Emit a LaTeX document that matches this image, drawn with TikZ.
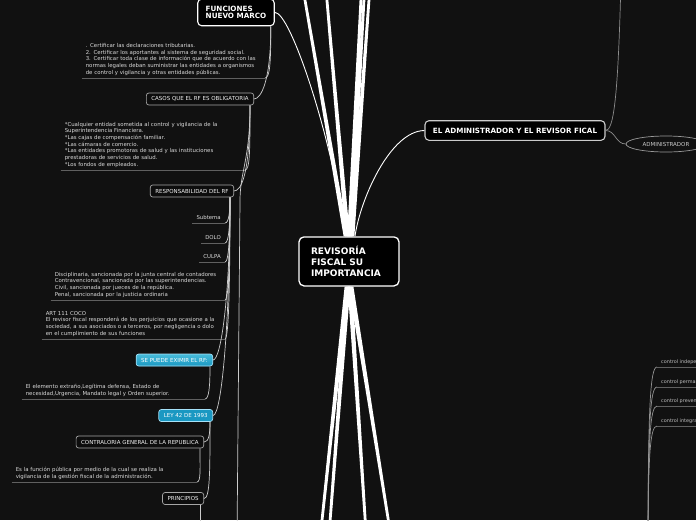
\documentclass[tikz,border=0pt]{standalone}
\usepackage{fontspec}
\setmainfont{DejaVu Sans}
\usetikzlibrary{calc,shapes.geometric}
\definecolor{bgdark}{HTML}{111111}
\definecolor{tealdark}{HTML}{1A98C2}
\definecolor{teallight}{HTML}{48BCDA}

\begin{document}
\begin{tikzpicture}[
  x=1pt, y=-1pt,
  rootbox/.style={draw=white, line width=1.3pt, fill=black, rounded corners=5pt,
    minimum width=100pt, minimum height=49pt, text width=76pt, inner xsep=12pt,
    align=left, text=white, font=\fontsize{9}{11.3}\selectfont\bfseries},
  mainbox/.style={draw=white, line width=1.1pt, fill=black, rounded corners=4pt,
    align=left, text=white, inner xsep=8pt, font=\fontsize{7.2}{7.6}\selectfont\bfseries},
  smallbox/.style={draw=gray!70!white, line width=0.7pt, fill=black!95, rounded corners=2.5pt,
    anchor=east, inner xsep=5pt, minimum height=12pt, text=white!95!black,
    font=\fontsize{5.5}{6.5}\selectfont},
  tealbox/.style={smallbox, draw=cyan!35!white, fill=tealdark, text=white},
  leaf/.style={anchor=south east, align=left, inner xsep=4pt, inner ysep=1.5pt,
    text=white!85!black, font=\fontsize{5.4}{6.7}\selectfont, execute at end node=\strut},
  uline/.style={draw=gray!75!black, line width=0.8pt},
  link/.style={draw=white!80!black, line width=0.7pt},
  mainlink/.style={draw=white, line width=0.9pt}]

\useasboundingbox (0,0) rectangle (696,520);
\fill[bgdark] (0,0) rectangle (696,520);
\clip (0,0) rectangle (696,520);

% --- central topic and first level ---
\node[rootbox] (root) at (349,261.4) {REVISORÍA\\FISCAL SU\\IMPORTANCIA};
\node[mainbox, minimum height=26.7pt] (funciones) at (236,12.4) {FUNCIONES\\NUEVO MARCO};
\node[mainbox, draw=white!80!black, minimum width=180pt, minimum height=19.6pt, align=center, inner xsep=4pt]
  (admin) at (515,130.5) {EL ADMINISTRADOR Y EL REVISOR FICAL};
\node[ellipse, draw=gray!80!white, line width=0.7pt, minimum width=80pt, minimum height=16pt,
  text=white!80!black, font=\fontsize{5.5}{6}\selectfont] (adm) at (666,144) {ADMINISTRADOR};

% --- left tree ---
\node[leaf, text width=175pt] (t1) at (265,78) {. Certificar las declaraciones tributarias.\\
  2. Certificar los aportantes al sistema de seguridad social.\\
  3. Certificar toda clase de información que de acuerdo con las\\
  normas legales deban suministrar las entidades a organismos\\
  de control y vigilancia y otras entidades públicas.};
\node[smallbox] (casos) at (254,99) {CASOS QUE EL RF ES OBLIGATORIA};
\node[leaf, text width=176pt] (t2) at (245,170) {*Cualquier entidad sometida al control y vigilancia de la\\
  Superintendencia Financiera.\\{}
  *Las cajas de compensación familiar.\\{}
  *Las cámaras de comercio.\\{}
  *Las entidades promotoras de salud y las instituciones\\
  prestadoras de servicios de salud.\\{}
  *Los fondos de empleados.};
\node[smallbox] (resp) at (234,191) {RESPONSABILIDAD DEL RF};
\node[leaf] (sub) at (225,223) {Subtema};
\node[leaf] (dolo) at (225,243) {DOLO};
\node[leaf] (culpa) at (225,262) {CULPA};
\node[leaf, text width=166pt] (t3) at (225,300) {Disciplinaria, sancionada por la junta central de contadores\\
  Contravencional, sancionada por las superintendencias.\\
  Civil, sancionada por jueces de la república.\\
  Penal, sancionada por la justicia ordinaria};
\node[leaf, text width=175pt] (t4) at (225,339) {ART 111 COCO\\
  El revisor fiscal responderá de los perjuicios que ocasione a la\\
  sociedad, a sus asociados o a terceros, por negligencia o dolo\\
  en el cumplimiento de sus funciones};
\node[tealbox, top color=teallight, bottom color=tealdark] (eximir) at (213,360) {SE PUEDE EXIMIR EL RF:};
\node[leaf, text width=175pt] (t5) at (205,399) {El elemento extraño,Legítima defensa, Estado de\\
  necesidad,Urgencia, Mandato legal y Orden superior.};
\node[tealbox] (ley) at (213,415.5) {LEY 42 DE 1993};
\node[smallbox] (contra) at (204,442) {CONTRALORIA GENERAL DE LA REPUBLICA};
\node[leaf, text width=177pt] (t6) at (197,482) {Es la función pública por medio de la cual se realiza la\\
  vigilancia de la gestión fiscal de la administración.};
\node[smallbox] (princ) at (204,498.5) {PRINCIPIOS};

% --- right leaves ---
\foreach \i/\y/\txt in {1/367/control independiente, 2/387/control permanente,
                        3/406/control preventivo, 4/426/control integral}
  \node[leaf, anchor=south west, text=white!75!black, font=\fontsize{4.9}{6}\selectfont]
    (c\i) at (657,\y) {\txt};

\foreach \n in {t1,t2,sub,dolo,culpa,t3,t4,t5,t6,c1,c2,c3,c4}
  \draw[uline] (\n.south west) -- (\n.south east);

% --- thick branches leaving the centre ---
\coordinate (u1) at (301.5,-20);
\coordinate (u2) at (325.2,-20);
\coordinate (u3) at (361.9,-20);
\coordinate (u4) at (365.1,-20);
\coordinate (u5) at (370.4,-20);
\coordinate (d1) at (319.9,540);
\coordinate (d2) at (328.6,540);
\coordinate (d3) at (366.5,540);
\coordinate (d4) at (391.5,540);
\foreach \e/\s in {u1/-3, u2/-1.5, u3/0.5, u4/1.5, u5/3}
  \fill[white] ($(root.north)+(\s-2.4,0)$) -- ($(\e)+(-1.3,0)$) -- ($(\e)+(1.3,0)$)
    -- ($(root.north)+(\s+2.4,0)$) -- cycle;
\foreach \e/\s in {d1/-2, d2/-1, d3/1, d4/2}
  \fill[white] ($(root.south)+(\s-2.4,0)$) -- ($(\e)+(-1.3,0)$) -- ($(\e)+(1.3,0)$)
    -- ($(root.south)+(\s+2.4,0)$) -- cycle;

\draw[mainlink] ($(root.north)+(-3,0)$) .. controls (330,130) and (290,12) .. (funciones.east);
\draw[mainlink] ($(root.north)+(6,0)$) .. controls (360,200) and (390,131) .. (admin.west);

% --- administrador ---
\coordinate (up6) at (621,-20);
\draw[link, draw=gray!90!white] (admin.east) .. controls +(8,0) and +(-3,120) .. (up6);
\draw[link, draw=gray!90!white] (admin.east) .. controls +(10,0) and +(-10,0) .. (adm.west);

% --- left connectors ---
\coordinate (fb) at ($(funciones.south east)+(-4,0)$);
\draw[link] (fb) .. controls +(0,36) and +(5,0) .. (t1.south east);
\draw[link] (fb) .. controls +(0,55) and +(7,0) .. (casos.east);

\coordinate (cb) at ($(casos.south east)+(-4,0)$);
\coordinate (down1) at (237,540);
\draw[link] (cb) .. controls +(0,45) and +(5,0) .. (t2.south east);
\draw[link] (cb) .. controls +(0,70) and +(7,0) .. (resp.east);
\draw[link] (cb) .. controls +(0,55) and +(0,-30) .. ($(resp.east)+(6,10)$) -- (down1);

\coordinate (rb) at ($(resp.south east)+(-4,0)$);
\foreach \n/\k/\r in {sub.south east/14/4, dolo.south east/26/4, culpa.south east/36/4,
                      t3.south east/58/4, t4.south east/80/4, eximir.east/100/8, ley.east/120/9}
  \draw[link] (rb) .. controls +(0,\k) and +(\r,0) .. (\n);

\draw[link] ($(eximir.south east)+(-3,0)$) .. controls +(0,20) and +(4,0) .. (t5.south east);
\coordinate (lb) at ($(ley.south east)+(-3,0)$);
\draw[link] (lb) .. controls +(0,12) and +(5,0) .. (contra.east);
\draw[link] (lb) .. controls +(0,50) and +(6,0) .. (princ.east);
\draw[link] ($(contra.south east)+(-4,0)$) .. controls +(0,20) and +(4,0) .. (t6.south east);
\coordinate (down2) at (200,540);
\draw[link] ($(princ.south east)+(-4,0)$) -- (down2);

% --- right connectors ---
\coordinate (down3) at (648,560);
\foreach \i/\k in {1/150, 2/135, 3/120, 4/105}
  \draw[link, draw=gray!85!white] (down3) .. controls +(0,-\k) and +(-7,0) .. (c\i.south west);

\end{tikzpicture}
\end{document}
